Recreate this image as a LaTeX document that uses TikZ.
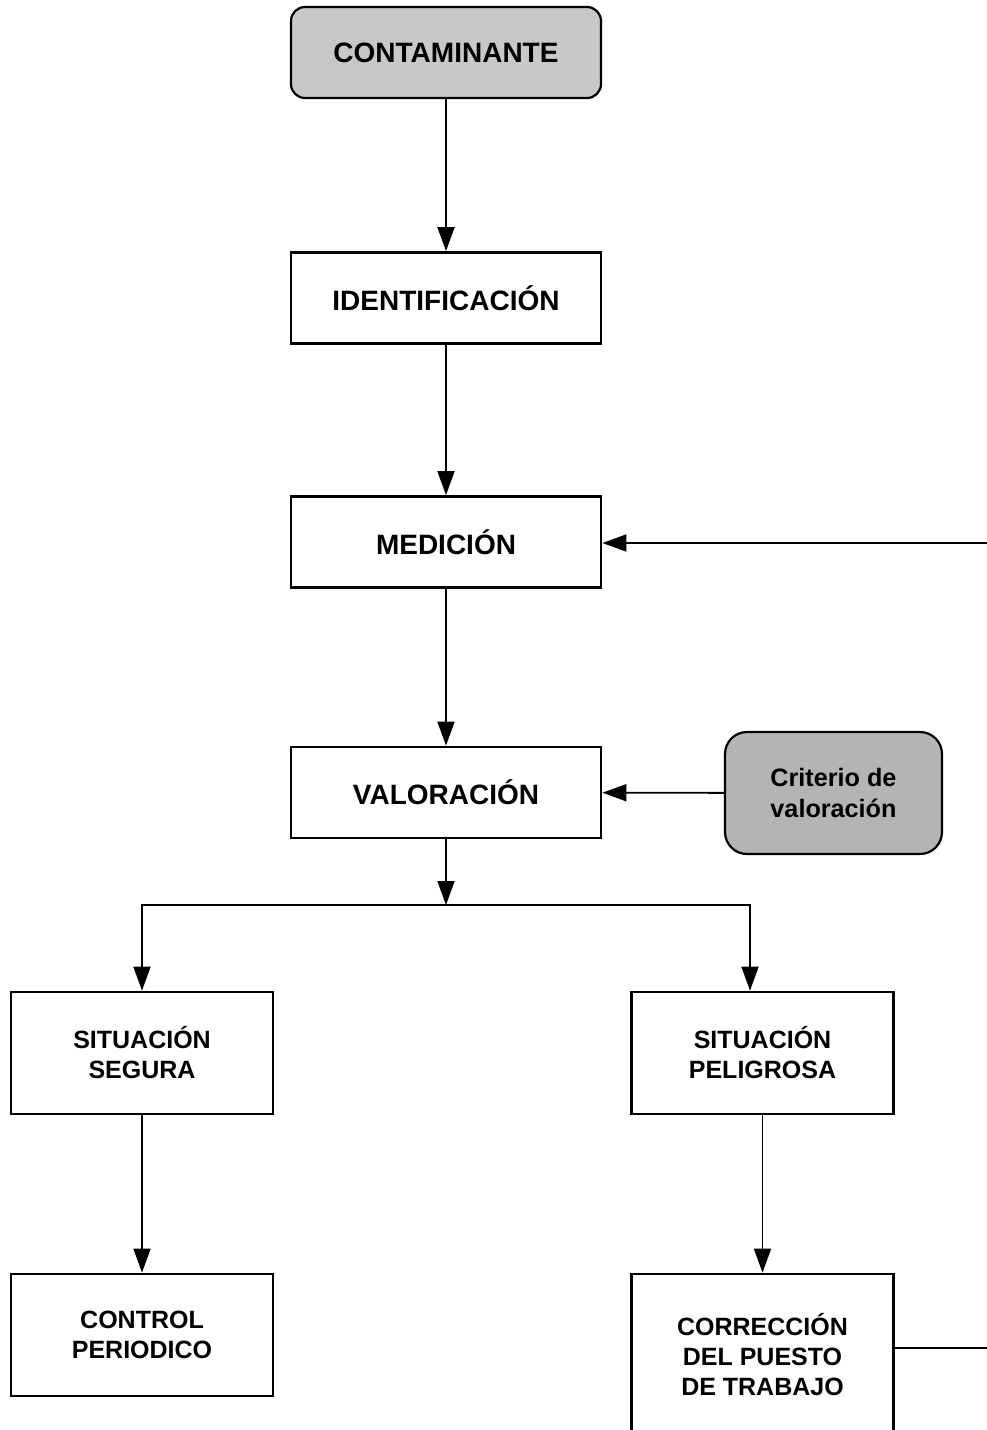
\documentclass[tikz,border=0pt]{standalone}
\usepackage{fontspec}
\setmainfont{Liberation Sans}
\usetikzlibrary{arrows.meta,calc}
\definecolor{grayA}{RGB}{200,200,200}
\definecolor{grayB}{RGB}{180,180,180}
\begin{document}
\begin{tikzpicture}[x=1pt,y=-1pt,
  box/.style={draw=black,line width=2.8pt,fill=white,minimum width=310pt,minimum height=91pt,inner sep=0pt,font=\fontsize{28}{30}\selectfont\bfseries,align=center},
  sbox/.style={box,minimum width=262pt,minimum height=122pt,font=\fontsize{25}{30}\selectfont\bfseries},
  rbox/.style={box,rounded corners=14pt,line width=2.2pt},
  conn/.style={line width=1.8pt},
  arr/.style={conn,-{Triangle[length=24pt,width=17pt]}}]
\useasboundingbox (0,0) rectangle (987,1430);
\clip (0,0) rectangle (987,1430);
\node[rbox,fill=grayA] (cont) at (446,52.5) {CONTAMINANTE};
\node[box] (ident) at (446,298) {IDENTIFICACIÓN};
\node[box] (med) at (446,542) {MEDICIÓN};
\node[box] (val) at (446,792.5) {VALORACIÓN};
\node[rbox,fill=grayB,rounded corners=22pt,minimum width=217pt,minimum height=122pt,font=\fontsize{25.2}{31}\selectfont\bfseries] (crit) at (833.5,793) {Criterio de\\valoración};
\node[sbox] (seg) at (142,1053) {SITUACIÓN\\SEGURA};
\node[sbox] (pel) at (762.5,1053) {SITUACIÓN\\PELIGROSA};
\node[sbox] (ctrl) at (142,1335) {CONTROL\\PERIODICO};
\node[sbox,minimum height=162pt] (corr) at (762.5,1355) {CORRECCIÓN\\DEL PUESTO\\DE TRABAJO};
\coordinate (j) at (446,905);
\coordinate (jl) at (142,905);
\coordinate (jr) at (750,905);
\coordinate (r1) at (990,1348);
\coordinate (r2) at (990,543);
\draw[arr] (cont) -- (ident);
\draw[arr] (ident) -- (med);
\draw[arr] (med) -- (val);
\draw[arr] (val) -- (j);
\draw[arr] (j) -- (jl) -- (seg.north);
\draw[arr] (j) -- (jr) -- (jr |- pel.north);
\draw[arr] (seg) -- (ctrl);
\draw[arr] (pel) -- (corr);
\draw[arr] (crit) -- (val);
\draw[conn] (corr.east |- r1) -- (r1);
\draw[arr] (r2) -- (med.east |- r2);
\end{tikzpicture}
\end{document}
